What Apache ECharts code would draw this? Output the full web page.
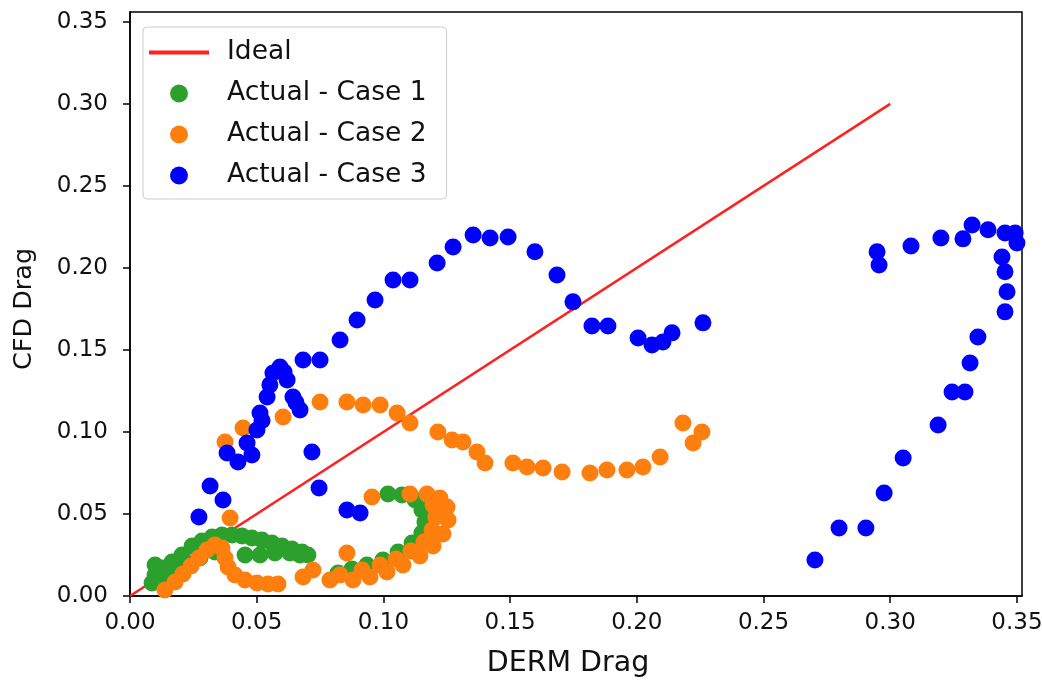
<!DOCTYPE html>
<html>
<head>
<meta charset="utf-8">
<script src="https://cdn.jsdelivr.net/npm/echarts@6/dist/echarts.min.js"></script>
<style>
html,body{margin:0;padding:0;background:#fff;}
#chart{width:1042px;height:681px;}
</style>
</head>
<body>
<div id="chart"></div>
<script>
var xTicks = [0, 0.05, 0.10, 0.15, 0.20, 0.25, 0.30, 0.35];
var yTicks = [0, 0.05, 0.10, 0.15, 0.20, 0.25, 0.30, 0.35];
var seriesNames = ['Ideal', 'Actual - Case 1', 'Actual - Case 2', 'Actual - Case 3'];

var idealLine = [[0, 0], [0.30, 0.30]];

var case1Points = [
  [0.0099,0.0189],[0.0099,0.0128],[0.0130,0.0171],[0.0166,0.0207],[0.0205,0.0250],[0.0245,0.0305],
  [0.0284,0.0335],[0.0324,0.0360],[0.0363,0.0372],[0.0403,0.0372],[0.0442,0.0366],[0.0481,0.0354],
  [0.0521,0.0341],[0.0560,0.0323],[0.0600,0.0305],[0.0639,0.0287],[0.0679,0.0268],[0.0702,0.0250],
  [0.0087,0.0079],[0.0118,0.0098],[0.0158,0.0128],[0.0217,0.0171],[0.0276,0.0232],[0.0335,0.0268],
  [0.0454,0.0250],[0.0513,0.0250],[0.0572,0.0262],[0.0631,0.0262],[0.0671,0.0250],
  [0.1018,0.0622],[0.1073,0.0616],[0.1125,0.0585],[0.1152,0.0524],[0.1164,0.0451],[0.1152,0.0384],
  [0.1113,0.0323],[0.1058,0.0268],[0.0998,0.0220],[0.0935,0.0189],[0.0876,0.0165],[0.0821,0.0140]
];

var case2Points = [
  [0.0375,0.0939],[0.0446,0.1024],[0.0604,0.1091],[0.0750,0.1183],[0.0856,0.1183],[0.0920,0.1165],
  [0.0987,0.1165],[0.1054,0.1116],[0.1105,0.1055],[0.1215,0.1000],[0.1271,0.0951],[0.1314,0.0939],
  [0.1369,0.0878],[0.1401,0.0811],[0.1511,0.0811],[0.1567,0.0787],[0.1630,0.0780],[0.1705,0.0756],
  [0.1815,0.0750],[0.1882,0.0768],[0.1961,0.0768],[0.2024,0.0787],[0.2092,0.0848],[0.2182,0.1055],
  [0.2257,0.1000],[0.2222,0.0933],
  [0.0138,0.0037],[0.0178,0.0085],[0.0209,0.0134],[0.0241,0.0183],[0.0272,0.0232],[0.0304,0.0280],
  [0.0335,0.0311],[0.0363,0.0293],[0.0375,0.0232],[0.0387,0.0177],[0.0414,0.0128],[0.0454,0.0098],
  [0.0501,0.0079],[0.0545,0.0073],[0.0584,0.0073],[0.0395,0.0476],[0.0683,0.0116],[0.0722,0.0159],
  [0.0789,0.0098],[0.0829,0.0128],[0.0856,0.0262],[0.0880,0.0098],[0.0947,0.0116],[0.1014,0.0146],
  [0.1077,0.0189],[0.1144,0.0244],[0.1196,0.0305],[0.1235,0.0378],[0.1255,0.0463],[0.1251,0.0543],
  [0.1223,0.0598],[0.1172,0.0622],[0.1105,0.0622],[0.0955,0.0604],
  [0.0916,0.0159],[0.0987,0.0189],[0.1050,0.0226],[0.1109,0.0274],[0.1160,0.0329],[0.1192,0.0402],
  [0.1207,0.0482],[0.1196,0.0555]
];

var case3Points = [
  [0.0272,0.0482],[0.0316,0.0671],[0.0367,0.0585],[0.0383,0.0872],[0.0426,0.0817],[0.0462,0.0933],
  [0.0481,0.0860],[0.0501,0.1012],[0.0513,0.1116],[0.0521,0.1070],[0.0541,0.1213],[0.0552,0.1287],
  [0.0564,0.1360],[0.0592,0.1396],[0.0608,0.1366],[0.0620,0.1317],[0.0643,0.1213],[0.0655,0.1180],
  [0.0671,0.1134],[0.0718,0.0878],[0.0746,0.0659],[0.0856,0.0524],[0.0908,0.0506],
  [0.0683,0.1439],[0.0750,0.1439],[0.0829,0.1561],[0.0896,0.1683],[0.0967,0.1805],[0.1038,0.1927],
  [0.1105,0.1927],[0.1212,0.2030],[0.1275,0.2128],[0.1354,0.2201],[0.1421,0.2183],[0.1492,0.2189],
  [0.1598,0.2098],[0.1685,0.1957],[0.1748,0.1793],[0.1823,0.1646],[0.1886,0.1646],[0.2005,0.1573],
  [0.2060,0.1530],[0.2103,0.1549],[0.2139,0.1604],[0.2261,0.1665],
  [0.2703,0.0220],[0.2798,0.0415],[0.2904,0.0415],[0.2976,0.0628],[0.3051,0.0841],[0.3189,0.1043],
  [0.3244,0.1244],[0.3295,0.1244],[0.3315,0.1421],[0.3346,0.1579],[0.3453,0.1732],[0.3461,0.1854],
  [0.3453,0.1976],[0.3441,0.2067],[0.2948,0.2098],[0.2956,0.2018],[0.3082,0.2134],[0.3200,0.2183],
  [0.3287,0.2177],[0.3323,0.2262],[0.3386,0.2232],[0.3453,0.2213],[0.3493,0.2213],[0.3500,0.2152]
];

var FONT = 'DejaVu Sans';
var chart = echarts.init(document.getElementById('chart'), null, {renderer: 'canvas'});
function fmt(v){ return v.toFixed(2); }
var option = {
  backgroundColor: '#ffffff',
  animation: false,
  grid: {
    left: 130, right: 20, top: 12, bottom: 85,
    show: true, borderColor: '#000', borderWidth: 1.5, backgroundColor: 'transparent',
    outerBoundsMode: 'none'
  },
  legend: {
    orient: 'vertical', left: 143, top: 27,
    padding: [12, 20, 10, 6],
    backgroundColor: '#fff', borderColor: '#cccccc', borderWidth: 1, borderRadius: 4,
    itemWidth: 60, itemHeight: 18, itemGap: 14,
    symbolKeepAspect: true,
    textStyle: {fontFamily: FONT, fontSize: 26.5, color: '#111', padding: [0,0,0,13]},
    data: [
      {name: seriesNames[0], icon: 'path://M0,0L60,0L60,4L0,4Z', itemStyle: {color: '#ff2020'}},
      {name: seriesNames[1], icon: 'circle'},
      {name: seriesNames[2], icon: 'circle'},
      {name: seriesNames[3], icon: 'circle'}
    ]
  },
  xAxis: {
    type: 'value', min: 0, max: 0.352,
    name: 'DERM Drag', nameLocation: 'middle', nameGap: 53,
    nameTextStyle: {fontFamily: FONT, fontSize: 28.5, color: '#111', padding: [0, 16, 0, 0]},
    axisLine: {show: true, onZero: false, lineStyle: {color: '#000', width: 1.5}},
    axisTick: {show: true, length: 7, inside: false, customValues: xTicks, lineStyle: {color: '#000', width: 1.5}},
    axisLabel: {customValues: xTicks, formatter: fmt, fontFamily: FONT, fontSize: 23, color: '#111', margin: 16},
    splitLine: {show: false}
  },
  yAxis: {
    type: 'value', min: 0, max: 0.356,
    name: 'CFD Drag', nameLocation: 'middle', nameGap: 93,
    nameTextStyle: {fontFamily: FONT, fontSize: 25.5, color: '#111', padding: [0, 10, 0, 0]},
    axisLine: {show: true, onZero: false, lineStyle: {color: '#000', width: 1.5}},
    axisTick: {show: true, length: 7, inside: false, customValues: yTicks, lineStyle: {color: '#000', width: 1.5}},
    axisLabel: {customValues: yTicks, formatter: fmt, fontFamily: FONT, fontSize: 23, color: '#111', margin: 22},
    splitLine: {show: false}
  },
  series: [
    {
      name: seriesNames[0], type: 'line', data: idealLine, symbol: 'none',
      lineStyle: {color: '#ff2020', width: 2.5}, itemStyle: {color: '#ff2020'}, z: 1
    },
    {
      name: seriesNames[1], type: 'scatter', data: case1Points, symbolSize: 17,
      itemStyle: {color: '#2ca02c', opacity: 1}, z: 2
    },
    {
      name: seriesNames[2], type: 'scatter', data: case2Points, symbolSize: 17,
      itemStyle: {color: '#ff7f0e', opacity: 1}, z: 3
    },
    {
      name: seriesNames[3], type: 'scatter', data: case3Points, symbolSize: 17,
      itemStyle: {color: '#0000ff', opacity: 1}, z: 4
    }
  ]
};
chart.setOption(option);
</script>
</body>
</html>
